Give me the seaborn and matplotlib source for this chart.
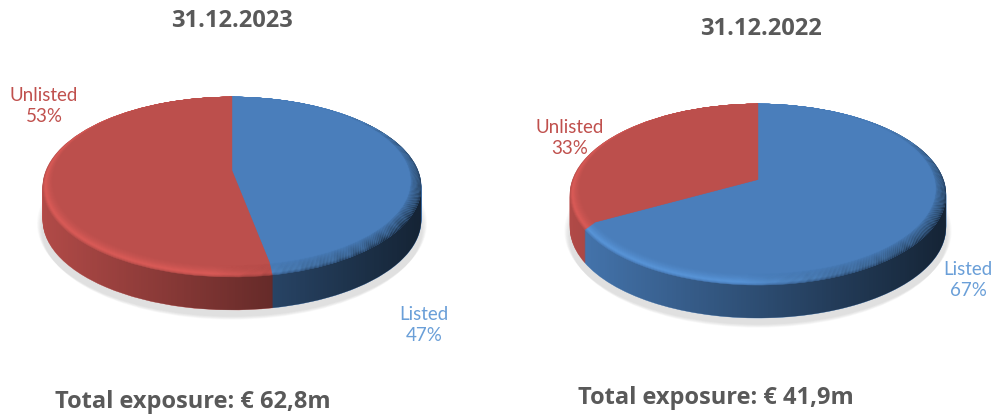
import numpy as np
import matplotlib
matplotlib.use("Agg")
import matplotlib.pyplot as plt
import seaborn as sns
from matplotlib.patches import Polygon
from matplotlib.transforms import Transform, Affine2D

# values
categories = ["Listed", "Unlisted"]
values_2023 = [47, 53]
values_2022 = [67, 33]
title_2023 = "31.12.2023"
title_2022 = "31.12.2022"
total_2023 = "Total exposure: € 62,8m"
total_2022 = "Total exposure: € 41,9m"

W, H = 996, 417
sns.set_theme(style="white")
plt.rcParams["font.family"] = ["Lato", "DejaVu Sans"]
palette = np.array(sns.color_palette(["#4A7EBB", "#BC4F4C"]))
bright = np.array(sns.color_palette(["#5F9FE6", "#E8605C"]))
GREY = "#595959"
LABEL_COLORS = {"Listed": "#6A9FD8", "Unlisted": "#C0504D"}
DEPTH = 33


class Perspective(Transform):
    # tilted disc: a circle stays an ellipse but the centre moves off the middle
    input_dims = 2
    output_dims = 2

    def __init__(self, k, sx, sy):
        super().__init__()
        self.k, self.sx, self.sy = k, sx, sy

    def transform_non_affine(self, values):
        values = np.asarray(values)
        w = 1 + self.k * values[:, 1]
        return np.column_stack([self.sx * values[:, 0] / w, self.sy * values[:, 1] / w])


fig = plt.figure(figsize=(W / 100, H / 100), dpi=100)
ax = fig.add_axes([0, 0, 1, 1])
z = [1]


def shade(cx, alpha, clip):
    # black overlay going from left to right of the disc, clipped to a patch
    frac = np.linspace(0, 1, 200)
    img = np.zeros((1, 200, 4))
    img[0, :, 3] = alpha(frac)
    im = ax.imshow(img, extent=(cx - 195, cx + 195, 0, H), aspect="auto",
                   interpolation="bilinear", zorder=z[0])
    im.set_clip_path(clip)
    z[0] += 1


def layer(values, cx, cy, persp, colors=palette, radius=1.0, shift=0.0, drop=0.0, dark=None):
    tr = persp + Affine2D().translate(cx, H - cy - drop) + ax.transData
    wedges, _ = ax.pie(values, colors=list(colors), startangle=90, counterclock=False,
                       radius=radius, center=(0, shift))
    for w in wedges:
        w.set_transform(tr)
        w.set_linewidth(0.3)
        w.set_edgecolor(w.get_facecolor())
        w.set_clip_on(False)
        w.set_zorder(z[0])
    z[0] += 1
    if dark is not None:
        clip, _ = ax.pie([1], radius=radius, center=(0, shift))
        clip[0].set_transform(tr)
        clip[0].set_visible(False)
        shade(cx, dark, clip[0])


def draw_pie(values, cx, cy, k, sx, sy):
    persp = Perspective(k, sx, sy)

    # soft shadow under the disc
    for i in range(7):
        tr = persp + Affine2D().translate(cx, H - cy - DEPTH - 3 - i) + ax.transData
        wedges, _ = ax.pie([1], colors=["#808080"], radius=1.03 - i * 0.004, wedgeprops={"alpha": 0.035})
        wedges[0].set_transform(tr)
        wedges[0].set_linewidth(0)
        wedges[0].set_zorder(z[0])
        z[0] += 1

    # side wall, darker towards the right
    for d in np.arange(DEPTH, 0, -1.0):
        layer(values, cx, cy, persp, drop=d)
    theta = np.linspace(0, 2 * np.pi, 400)
    pts = persp.transform(np.column_stack([np.cos(theta), np.sin(theta)]))
    mid = (pts[:, 1].max() + pts[:, 1].min()) / 2
    pts[:, 1] -= np.where(pts[:, 1] < mid, DEPTH, 0)
    hull = Polygon(pts + [cx, H - cy], closed=True, transform=ax.transData, visible=False)
    ax.add_patch(hull)
    shade(cx, lambda f: np.clip(0.05 + 0.68 * f, 0, 1), hull)

    # bevel ring: tall at the bottom, nothing at the top
    steps = 14
    for i in range(steps):
        t = i / (steps - 1)
        r = 1 - 0.05 * t
        glow = 0.7 * t / 0.2 if t < 0.2 else 0.7 * (1 - (t - 0.2) / 0.8) ** 1.5
        cols = palette + (bright - palette) * glow
        layer(values, cx, cy, persp, colors=cols, radius=r, shift=1 - r,
              dark=lambda f, a=1 - t: np.clip((f - 0.45) * 1.5, 0, 0.72) * a ** 0.8)

    # flat top
    layer(values, cx, cy, persp, radius=0.95, shift=0.05)


def label(text, x, y, color, **kw):
    ax.text(x, H - y, text, color=color, ha="center", va="center", zorder=5000, **kw)


draw_pie(values_2023, 232, 175, 0.133, 187.5, 88.4)
draw_pie(values_2022, 758, 184, 0.116, 186.7, 89.3)

ax.set_aspect("auto")
ax.set_xlim(0, W)
ax.set_ylim(0, H)
ax.set_axis_off()

BOLD = dict(fontsize=17, fontweight="bold", family=["Open Sans", "DejaVu Sans"])
label(title_2023, 232, 21, GREY, **BOLD)
label(title_2022, 761, 29, GREY, **BOLD)
label(total_2023, 193, 402, GREY, **BOLD)
label(total_2022, 716, 398, GREY, **BOLD)

LAB = dict(fontsize=13.5, linespacing=1.25, family=["Lato", "DejaVu Sans"])
label(f"{categories[1]}\n{values_2023[1]}%", 44, 106, LABEL_COLORS["Unlisted"], **LAB)
label(f"{categories[0]}\n{values_2023[0]}%", 424, 325, LABEL_COLORS["Listed"], **LAB)
label(f"{categories[1]}\n{values_2022[1]}%", 570, 138, LABEL_COLORS["Unlisted"], **LAB)
label(f"{categories[0]}\n{values_2022[0]}%", 968, 280, LABEL_COLORS["Listed"], **LAB)

fig.savefig("out.png", dpi=100)
